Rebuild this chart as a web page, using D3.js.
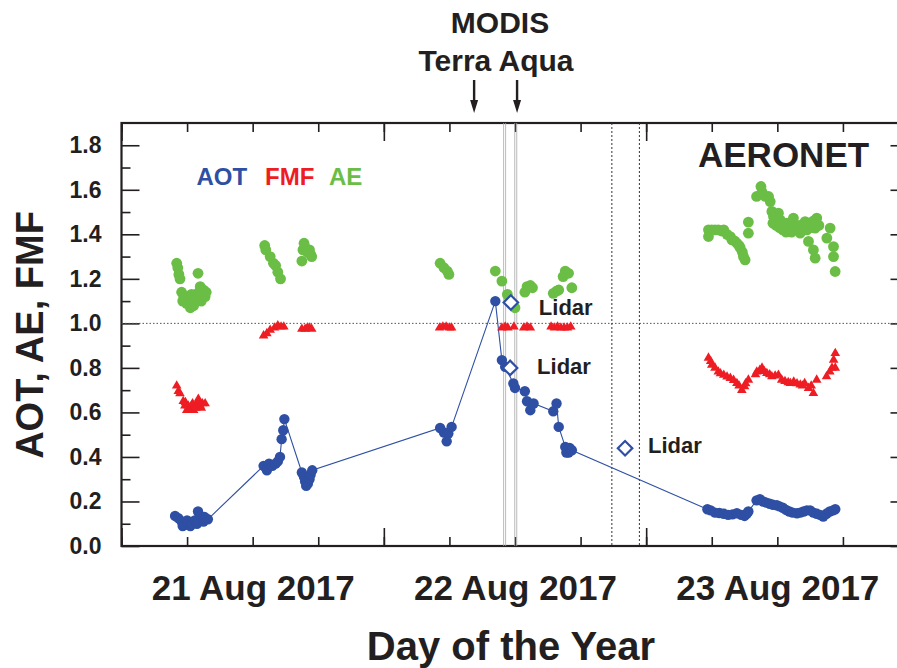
<!DOCTYPE html>
<html>
<head>
<meta charset="utf-8">
<script src="https://cdn.jsdelivr.net/npm/d3@7"></script>
<style>
  body { margin: 0; background: #fff; }
  text { font-family: "Liberation Sans", Arial, Helvetica, sans-serif; font-weight: bold; fill: #231f20; }
</style>
</head>
<body>
<div id="chart"></div>
<script>
const margin = {top: 123, left: 121.5},
      width = 787,
      height = 423;

const BLUE = "#2e4fa3",
      RED = "#ee1d23",
      GREEN = "#6bbe45";

// hours since 21 Aug 2017 00:00 UTC, value
const aot = [
  [4.9,0.135],[5.2,0.125],[5.5,0.11],[5.6,0.09],[5.8,0.095],[6.0,0.115],[6.1,0.10],[6.3,0.09],[6.4,0.10],
  [6.7,0.115],[6.9,0.10],[7.0,0.155],[7.05,0.11],[7.2,0.135],[7.3,0.12],[7.5,0.11],[7.6,0.13],[7.9,0.12],
  [13.0,0.36],[13.3,0.34],[13.5,0.37],[13.8,0.36],[14.1,0.37],[14.3,0.38],[14.5,0.40],[14.65,0.48],
  [14.8,0.52],[14.9,0.57],
  [16.5,0.33],[16.7,0.31],[16.8,0.29],[16.9,0.27],[17.05,0.28],[17.2,0.30],[17.3,0.32],[17.45,0.34],
  [29.15,0.53],[29.5,0.51],[29.75,0.47],[29.9,0.505],[30.2,0.535],
  [34.2,1.10],[34.8,0.835],[35.1,0.805],[35.85,0.73],[36.0,0.71],[36.9,0.695],[37.1,0.65],[37.4,0.61],
  [37.7,0.64],[39.5,0.605],[39.8,0.64],[40.0,0.535],[40.6,0.445],[40.7,0.42],[40.9,0.42],[41.0,0.44],[41.2,0.43],
  [53.6,0.165],[53.9,0.16],[54.3,0.15],[54.7,0.148],[55.1,0.145],[55.5,0.14],[55.9,0.142],[56.3,0.147],
  [56.7,0.14],[57.0,0.135],[57.2,0.145],[57.35,0.155],
  [58.1,0.205],[58.4,0.21],[58.7,0.20],[59.0,0.195],[59.3,0.19],[59.6,0.185],[59.95,0.183],[60.2,0.178],
  [60.5,0.172],[60.8,0.162],[61.1,0.155],[61.4,0.15],[61.8,0.147],[62.1,0.15],[62.4,0.155],[62.7,0.16],
  [63.0,0.16],[63.3,0.15],[63.6,0.145],[63.9,0.14],[64.2,0.132],[64.5,0.145],[64.8,0.155],[65.1,0.16],[65.3,0.165]
];

const ae = [
  [5.05,1.27],[5.15,1.25],[5.25,1.22],[5.35,1.20],[5.5,1.14],[5.6,1.10],[5.7,1.12],[5.9,1.12],[5.95,1.09],
  [6.2,1.10],[6.3,1.07],[6.4,1.13],[6.5,1.11],[6.6,1.08],[6.8,1.13],[6.9,1.10],[7.0,1.225],[7.1,1.14],
  [7.2,1.165],[7.3,1.10],[7.4,1.13],[7.5,1.15],[7.65,1.12],[7.75,1.14],
  [13.1,1.35],[13.2,1.33],[13.6,1.30],[13.9,1.27],[14.1,1.26],[14.3,1.23],[14.55,1.20],
  [16.5,1.28],[16.6,1.33],[16.7,1.36],[16.8,1.34],[17.0,1.32],[17.2,1.33],[17.3,1.31],[17.4,1.30],
  [29.15,1.27],[29.5,1.25],[29.8,1.235],[29.95,1.22],
  [34.2,1.235],[34.8,1.19],[35.3,1.13],[35.5,1.10],[36.0,1.07],[36.9,1.14],[37.1,1.165],[37.4,1.17],
  [37.6,1.16],[39.5,1.135],[39.8,1.145],[40.0,1.15],[40.4,1.21],[40.6,1.235],[40.9,1.225],[41.2,1.16],
  [53.7,1.42],[53.7,1.39],[54.0,1.42],[54.3,1.42],[54.6,1.42],[54.9,1.415],[55.1,1.42],[55.4,1.40],
  [55.7,1.39],[55.85,1.375],[56.1,1.37],[56.3,1.36],[56.5,1.35],[56.6,1.34],[56.8,1.32],[56.9,1.30],
  [57.05,1.285],[57.35,1.405],[57.35,1.455],
  [58.1,1.57],[58.5,1.615],[58.6,1.59],[58.9,1.57],[59.2,1.57],[59.35,1.547],[59.5,1.503],[59.65,1.48],
  [59.6,1.45],[59.8,1.47],[59.9,1.44],[60.1,1.495],[60.26,1.465],[60.2,1.43],[60.5,1.45],[60.5,1.42],
  [60.6,1.44],[60.87,1.45],[60.8,1.41],[61.0,1.45],[61.17,1.42],[61.3,1.41],[61.47,1.473],[61.5,1.43],
  [61.78,1.435],[62.0,1.44],[62.09,1.405],[62.3,1.43],[62.54,1.457],[62.7,1.42],[62.8,1.44],[63.0,1.45],
  [63.2,1.43],[63.3,1.46],[63.61,1.473],[63.46,1.428],[63.8,1.44],[62.85,1.368],[63.3,1.33],[63.46,1.293],
  [64.53,1.383],[64.83,1.428],[65.14,1.345],[65.14,1.30],[65.29,1.233]
];

const fmf = [
  [5.05,0.72],[5.2,0.695],[5.35,0.685],[5.65,0.65],[5.8,0.63],[5.85,0.645],[5.97,0.61],[6.1,0.63],
  [6.2,0.62],[6.3,0.615],[6.4,0.63],[6.5,0.64],[6.6,0.61],[6.8,0.62],[6.9,0.64],[7.03,0.66],[7.1,0.645],
  [7.2,0.63],[7.3,0.62],[7.4,0.64],[7.65,0.64],
  [13.0,0.945],[13.3,0.955],[13.6,0.97],[14.0,0.98],[14.3,0.99],[14.6,0.985],[14.85,0.985],
  [16.5,0.975],[16.8,0.975],[17.0,0.98],[17.2,0.98],[17.4,0.975],
  [29.1,0.98],[29.4,0.985],[29.7,0.985],[30.0,0.98],[30.2,0.98],
  [34.8,0.98],[35.1,0.985],[35.35,0.98],[35.9,0.985],[36.8,0.98],[37.1,0.985],[37.4,0.98],
  [39.3,0.985],[39.6,0.98],[39.9,0.985],[40.2,0.98],[40.5,0.98],[40.8,0.98],[41.1,0.985],
  [53.7,0.845],[53.9,0.83],[54.0,0.813],[54.3,0.80],[54.6,0.783],[54.8,0.775],[55.1,0.768],[55.4,0.76],
  [55.7,0.754],[56.0,0.745],[56.3,0.731],[56.5,0.72],[56.75,0.70],[57.0,0.716],[57.1,0.73],[57.35,0.746],
  [58.0,0.77],[58.12,0.783],[58.4,0.79],[58.6,0.80],[58.8,0.785],[59.04,0.776],[59.3,0.77],[59.5,0.761],
  [59.8,0.765],[60.1,0.768],[60.4,0.746],[60.7,0.74],[61.0,0.735],[61.2,0.731],[61.5,0.738],[61.8,0.73],
  [62.1,0.724],[62.3,0.72],[62.5,0.731],[62.85,0.709],[63.1,0.72],[63.3,0.686],[63.6,0.746],
  [64.5,0.761],[64.8,0.783],[65.0,0.80],[65.15,0.836],[65.3,0.866],[65.3,0.80]
];

const lidar = [[35.62,1.094],[35.55,0.80],[46.07,0.439]];
const lidarLabels = ["Lidar","Lidar","Lidar"];

const terraHour = 35.05,
      aquaHour = 36.07;
const dottedHours = [44.86, 47.38];
const arrowHours = [32.26, 36.19];

const dayTicks = [0,24,48,72];
const quarterTicks = [0,6,12,18,24,30,36,42,48,54,60,66,72];
const dayLabelHours = [12,36,60];
const dayLabels = ["21 Aug 2017","22 Aug 2017","23 Aug 2017"];
const yMajor = [0,0.2,0.4,0.6,0.8,1.0,1.2,1.4,1.6,1.8];
const yMinor = [0.1,0.3,0.5,0.7,0.9,1.1,1.3,1.5,1.7];

const svg = d3.select("#chart")
  .append("svg")
  .attr("width", 897)
  .attr("height", 668);

const g = svg.append("g")
  .attr("transform", `translate(${margin.left},${margin.top})`);

const x = d3.scaleLinear().domain([0,72]).range([0,width]);
const y = d3.scaleLinear().domain([0,1.9]).range([height,0]);

// ticks, all pointing inward
function tickAxis(axis, values, size, tx, ty){
  const a = g.append("g")
    .attr("transform", `translate(${tx},${ty})`)
    .call(axis.tickValues(values).tickSize(-size).tickFormat(""));
  a.select(".domain").remove();
  a.selectAll("line").attr("stroke", "#231f20").attr("stroke-width", 1.6);
  return a;
}
tickAxis(d3.axisBottom(x), quarterTicks, 9, 0, height);
tickAxis(d3.axisBottom(x), dayTicks, 18, 0, height);
tickAxis(d3.axisTop(x), quarterTicks, 9, 0, 0);
tickAxis(d3.axisTop(x), dayTicks, 18, 0, 0);
tickAxis(d3.axisLeft(y), yMinor, 9, 0, 0);
tickAxis(d3.axisRight(y), yMinor, 9, width, 0);
tickAxis(d3.axisRight(y), yMajor, 18, width, 0);

const yAxis = g.append("g")
  .call(d3.axisLeft(y).tickValues(yMajor).tickSize(-18).tickPadding(20).tickFormat(d3.format(".1f")));
yAxis.select(".domain").remove();
yAxis.selectAll("line").attr("stroke", "#231f20").attr("stroke-width", 1.6);
yAxis.selectAll("text").attr("font-size", 23).attr("font-family", null);

const xLabels = g.append("g")
  .attr("transform", `translate(0,${height})`)
  .call(d3.axisBottom(x).tickValues(dayLabelHours).tickSize(0).tickPadding(29)
    .tickFormat((d, i) => dayLabels[i]));
xLabels.select(".domain").remove();
xLabels.selectAll("text").attr("font-size", 35).attr("font-family", null);

// frame
g.append("rect")
  .attr("width", width)
  .attr("height", height)
  .attr("fill", "none")
  .attr("stroke", "#231f20")
  .attr("stroke-width", 2.2);

// reference lines
g.append("line")
  .attr("x1", 0).attr("x2", width)
  .attr("y1", y(1)).attr("y2", y(1))
  .attr("stroke", "#555").attr("stroke-dasharray", "1.5,2");

[terraHour, aquaHour].forEach(h => {
  [-1, 1].forEach(off => {
    g.append("line")
      .attr("x1", x(h) + off).attr("x2", x(h) + off)
      .attr("y1", 0).attr("y2", height)
      .attr("stroke", "#a8a8a8").attr("stroke-width", 0.8);
  });
});

g.selectAll("line.dotted")
  .data(dottedHours)
  .join("line")
  .attr("class", "dotted")
  .attr("x1", d => x(d)).attr("x2", d => x(d))
  .attr("y1", 0).attr("y2", height)
  .attr("stroke", "#333").attr("stroke-dasharray", "2,2");

// AOT line
g.append("path")
  .datum(aot)
  .attr("fill", "none")
  .attr("stroke", BLUE)
  .attr("stroke-width", 1.1)
  .attr("d", d3.line().x(d => x(d[0])).y(d => y(d[1])));

g.selectAll("circle.ae")
  .data(ae)
  .join("circle")
  .attr("class", "ae")
  .attr("cx", d => x(d[0]))
  .attr("cy", d => y(d[1]))
  .attr("r", 5.4)
  .style("fill", GREEN);

g.selectAll("path.fmf")
  .data(fmf)
  .join("path")
  .attr("class", "fmf")
  .attr("transform", d => `translate(${x(d[0])},${y(d[1])})`)
  .attr("d", d3.symbol(d3.symbolTriangle, 40))
  .style("fill", RED);

g.selectAll("circle.aot")
  .data(aot)
  .join("circle")
  .attr("class", "aot")
  .attr("cx", d => x(d[0]))
  .attr("cy", d => y(d[1]))
  .attr("r", 5.2)
  .style("fill", BLUE);

g.selectAll("path.lidar")
  .data(lidar)
  .join("path")
  .attr("class", "lidar")
  .attr("transform", d => `translate(${x(d[0])},${y(d[1])}) rotate(45)`)
  .attr("d", d3.symbol(d3.symbolSquare, 105))
  .style("fill", "#fff")
  .style("stroke", BLUE)
  .style("stroke-width", 2.2);

const lidarOffsets = [[28,13],[27,6],[23,5]];
g.selectAll("text.lidar")
  .data(lidar)
  .join("text")
  .attr("class", "lidar")
  .attr("x", (d, i) => x(d[0]) + lidarOffsets[i][0])
  .attr("y", (d, i) => y(d[1]) + lidarOffsets[i][1])
  .attr("font-size", 22)
  .text((d, i) => lidarLabels[i]);

// legend and titles
const legend = [["AOT", BLUE, 196.5], ["FMF", RED, 265], ["AE", GREEN, 329]];
svg.selectAll("text.legend")
  .data(legend)
  .join("text")
  .attr("class", "legend")
  .attr("x", d => d[2])
  .attr("y", 185)
  .attr("font-size", 24)
  .style("fill", d => d[1])
  .text(d => d[0]);

svg.append("text")
  .attr("x", 698).attr("y", 167)
  .attr("font-size", 35)
  .text("AERONET");

svg.append("text")
  .attr("x", 500).attr("y", 33)
  .attr("text-anchor", "middle")
  .attr("font-size", 30)
  .text("MODIS");

svg.append("text")
  .attr("x", 496).attr("y", 71)
  .attr("text-anchor", "middle")
  .attr("font-size", 30)
  .text("Terra Aqua");

// MODIS overpass arrows
svg.selectAll("path.arrow")
  .data(arrowHours)
  .join("path")
  .attr("class", "arrow")
  .attr("transform", d => `translate(${margin.left + x(d)},0)`)
  .attr("d", "M-1.2,80 L1.2,80 L1.2,100 L4,100 L0,113 L-4,100 L-1.2,100 Z")
  .style("fill", "#231f20");

svg.append("text")
  .attr("transform", "translate(43,335) rotate(-90)")
  .attr("text-anchor", "middle")
  .attr("font-size", 38)
  .text("AOT, AE, FMF");

svg.append("text")
  .attr("x", 511).attr("y", 660)
  .attr("text-anchor", "middle")
  .attr("font-size", 40)
  .text("Day of the Year");
</script>
</body>
</html>
